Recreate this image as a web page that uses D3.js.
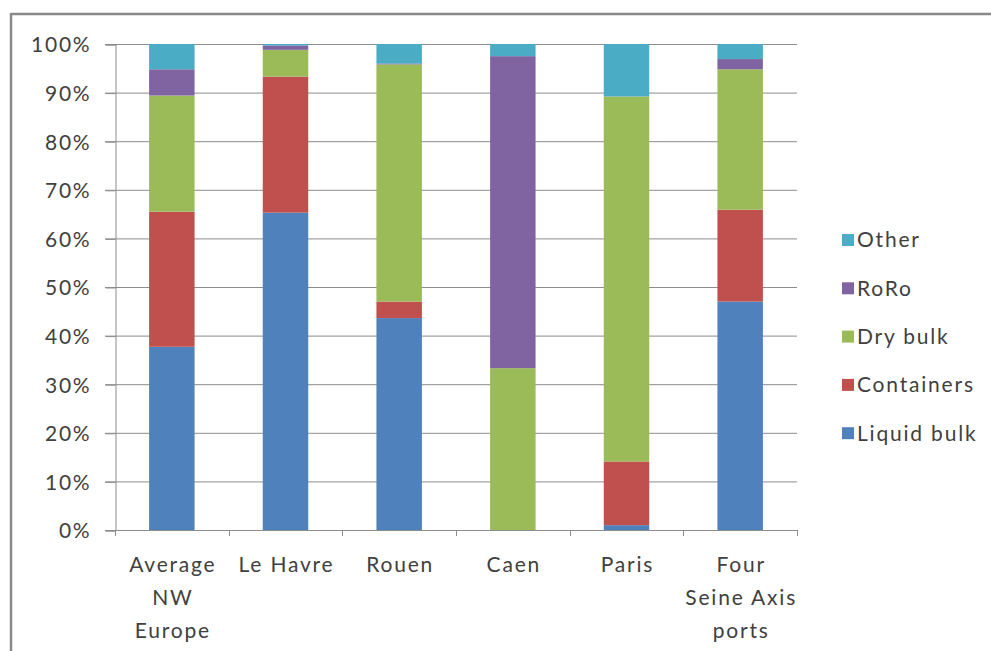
<!DOCTYPE html>
<html><head><meta charset="utf-8">
<script src="https://cdn.jsdelivr.net/npm/d3@7"></script>
<style>
html,body{margin:0;padding:0;background:#fff;}
svg{display:block;}
text{font-family:Lato,"Open Sans",sans-serif;fill:#404040;letter-spacing:1.8px;}
</style></head>
<body>
<svg id="chart" width="991" height="651"></svg>
<script>
const categories = [["Average","NW","Europe"],["Le Havre"],["Rouen"],["Caen"],["Paris"],["Four","Seine Axis","ports"]];
const seriesNames = ["Liquid bulk","Containers","Dry bulk","RoRo","Other"];
const liquidBulk = [37.7, 65.3, 43.6, 0, 1.0, 47.0];
const containers = [27.8, 28.0, 3.4, 0, 13.1, 18.9];
const dryBulk    = [23.9, 5.5, 48.8, 33.3, 75.1, 28.9];
const roro       = [5.4, 0.9, 0.2, 64.2, 0, 2.1];
const other      = [5.2, 0.3, 4.0, 2.5, 10.8, 3.1];
const yTicks = [0,10,20,30,40,50,60,70,80,90,100];
const colors = ["#4F81BD","#C0504D","#9BBB59","#8064A2","#4BACC6"];

const svg = d3.select("#chart");
const margin = {left:115, right:194, top:44, bottom:121};
const W = 991, H = 651;
const x0 = margin.left, x1 = W - margin.right, y0 = H - margin.bottom, y1 = margin.top;
const FS = "21px";

// frame
svg.append("line").attr("x1",11).attr("x2",W).attr("y1",14).attr("y2",14).attr("stroke","#8a8a8a").attr("stroke-width",2.5);
svg.append("line").attr("x1",11).attr("x2",11).attr("y1",13).attr("y2",H).attr("stroke","#8a8a8a").attr("stroke-width",2.5);

const keys = categories.map(c=>c.join(" "));
const x = d3.scaleBand().domain(keys).range([x0,x1]).paddingInner(0.6).paddingOuter(0.3);
const y = d3.scaleLinear().domain([0,100]).range([y0,y1]);

// gridlines
svg.append("g").selectAll("line").data(yTicks).join("line")
  .attr("x1",x0-10).attr("x2",x1).attr("y1",d=>y(d)+0.5).attr("y2",d=>y(d)+0.5)
  .attr("stroke","#8c8c8c").attr("stroke-width",1);

// y axis
const yAxis = d3.axisLeft(y).tickValues(yTicks).tickFormat(d=>d+"%").tickSize(10).tickPadding(14);
const gy = svg.append("g").attr("transform",`translate(${x0+0.5},0.5)`).call(yAxis);
gy.select(".domain").attr("stroke","#8c8c8c");
gy.selectAll(".tick line").attr("stroke","#8c8c8c");
gy.selectAll(".tick text").style("font-size",FS).style("font-family","Lato").attr("fill","#404040").attr("dy","0.35em");

// stacked data
const rows = keys.map((k,i)=>({key:k, "Liquid bulk":liquidBulk[i], "Containers":containers[i], "Dry bulk":dryBulk[i], "RoRo":roro[i], "Other":other[i]}));
const stack = d3.stack().keys(seriesNames)(rows);
svg.append("g").selectAll("g").data(stack).join("g").attr("fill",(d,i)=>colors[i])
  .selectAll("rect").data(d=>d).join("rect")
  .attr("x",d=>x(d.data.key)).attr("width",x.bandwidth())
  .attr("y",d=>y(Math.min(100,d[1]))).attr("height",d=>Math.max(0,y(d[0])-y(Math.min(100,d[1]))));

// x axis
svg.append("line").attr("x1",x0).attr("x2",x1).attr("y1",y0+0.5).attr("y2",y0+0.5).attr("stroke","#8c8c8c");
const bounds = d3.range(keys.length+1).map(i=>x0 + i*(x1-x0)/keys.length);
svg.append("g").selectAll("line").data(bounds).join("line")
  .attr("x1",d=>Math.round(d)+0.5).attr("x2",d=>Math.round(d)+0.5).attr("y1",y0).attr("y2",y0+6).attr("stroke","#8c8c8c");

const labels = svg.append("g").selectAll("text").data(categories).join("text")
  .attr("x",(d,i)=>x(keys[i])+x.bandwidth()/2+1).attr("y",572)
  .attr("text-anchor","middle").style("font-size",FS).attr("fill","#404040");
labels.each(function(d){
  const t = d3.select(this);
  d.forEach((line,j)=>t.append("tspan").attr("x",t.attr("x")).attr("dy", j===0?0:33).text(line));
});

// legend
const legendOrder = seriesNames.map((n,i)=>({n,c:colors[i]})).reverse();
const lg = svg.append("g").selectAll("g").data(legendOrder).join("g")
  .attr("transform",(d,i)=>`translate(842,${240 + i*48.3})`);
lg.append("rect").attr("x",0).attr("y",-6).attr("width",12).attr("height",12).attr("fill",d=>d.c);
lg.append("text").attr("x",15).attr("y",0).attr("dy","0.35em").style("font-size",FS).attr("fill","#404040").text(d=>d.n);
</script>
</body></html>
